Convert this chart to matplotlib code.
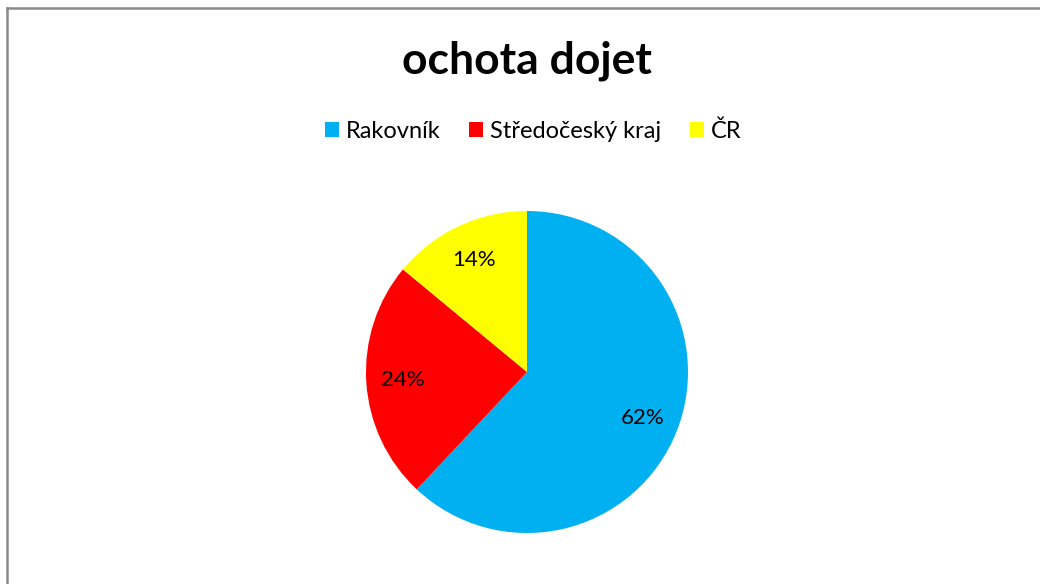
import matplotlib
matplotlib.use("Agg")
import matplotlib.pyplot as plt
from matplotlib.lines import Line2D
from matplotlib.patches import Patch

plt.rcParams['font.family'] = ['Lato', 'DejaVu Sans']

categories = ["Rakovník", "Středočeský kraj", "ČR"]
values = [62, 24, 14]
colors = ["#00B0F0", "#FF0000", "#FFFF00"]
title = "ochota dojet"

fig = plt.figure(figsize=(10.4, 5.84), dpi=100)
fig.patch.set_facecolor("white")

# border (left and top only visible)
fig.add_artist(Line2D([7/1040, 7/1040], [0, 1 - 8/584], transform=fig.transFigure,
                      color="#8a8a8a", lw=1.8))
fig.add_artist(Line2D([7/1040, 1], [1 - 8/584, 1 - 8/584], transform=fig.transFigure,
                      color="#8a8a8a", lw=1.8))

ax = fig.add_axes([(527-161)/1040, (584-533)/584, 322/1040, 322/584])
ax.pie(values, colors=colors, startangle=90, counterclock=False,
       autopct='%.0f%%', pctdistance=0.77,
       textprops=dict(fontsize=16, color="black"),
       wedgeprops=dict(linewidth=0))
ax.set_xlim(-1, 1)
ax.set_ylim(-1, 1)
ax.set_aspect('equal')

fig.text(527/1040, 1 - 61/584, title, ha='center', va='center',
         fontsize=32, fontweight='bold')

handles = [Patch(facecolor=c, edgecolor='none') for c in colors]
fig.legend(handles, categories, loc='center', bbox_to_anchor=(533/1040, 1 - 131/584),
           ncol=3, frameon=False, fontsize=17, handlelength=0.6, handleheight=0.6,
           handletextpad=0.3, columnspacing=1.2)

fig.savefig("out.png", dpi=100)
